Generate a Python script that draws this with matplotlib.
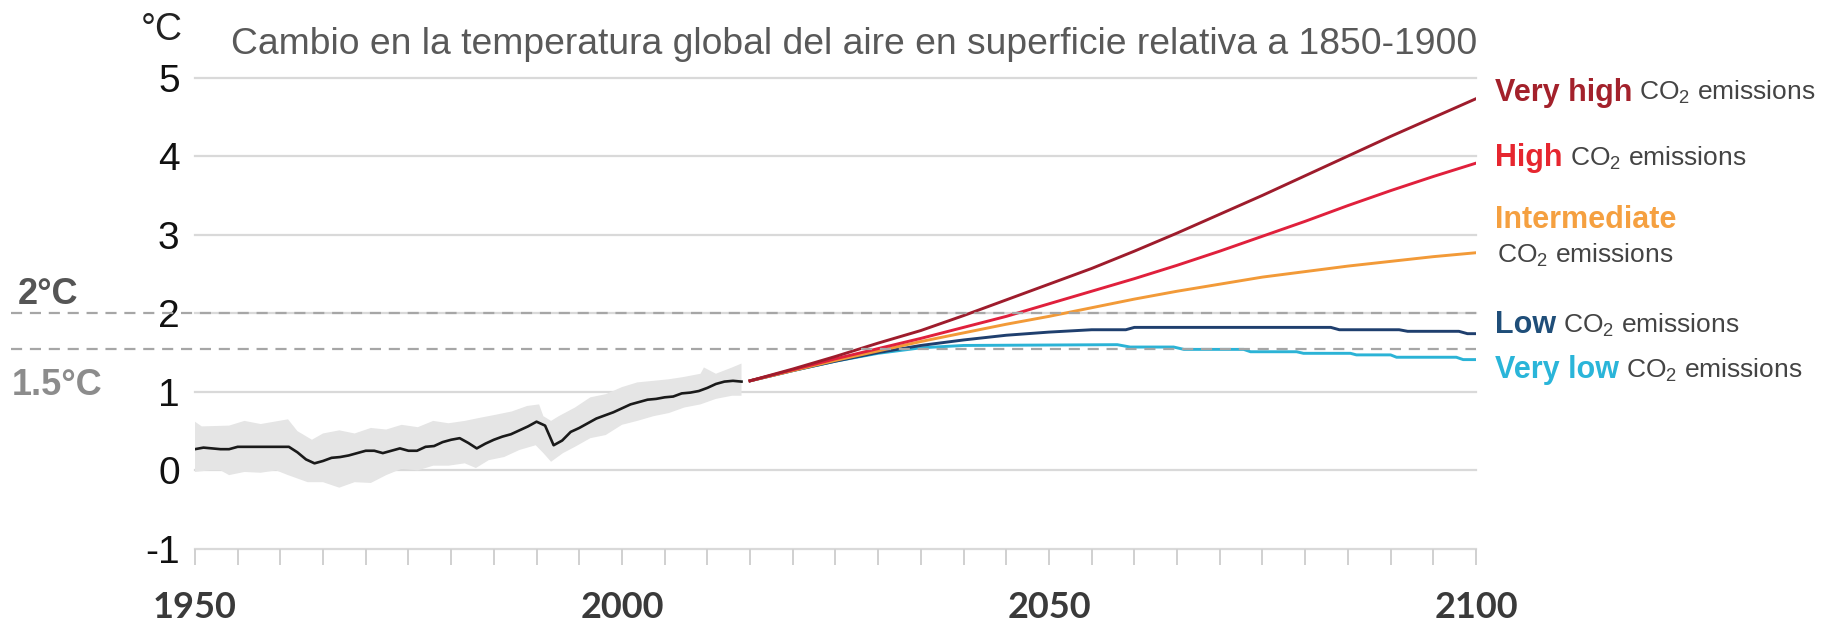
import numpy as np
import matplotlib
matplotlib.use("Agg")
import matplotlib.pyplot as plt
import matplotlib.transforms as mtransforms

plt.rcParams['mathtext.fontset'] = 'custom'
plt.rcParams['mathtext.rm'] = 'Liberation Sans'
plt.rcParams['mathtext.it'] = 'Liberation Sans:italic'
plt.rcParams['mathtext.bf'] = 'Liberation Sans:bold'

# ---------------- data ----------------
hist_years = list(range(1950, 2015))
hist_values = [0.27, 0.29, 0.28, 0.27, 0.27, 0.30, 0.30, 0.30, 0.30, 0.30,
               0.30, 0.30, 0.23, 0.14, 0.09, 0.12, 0.16, 0.17, 0.19, 0.22,
               0.25, 0.25, 0.22, 0.25, 0.28, 0.25, 0.25, 0.30, 0.31, 0.36,
               0.39, 0.41, 0.35, 0.28, 0.34, 0.39, 0.43, 0.46, 0.51, 0.56,
               0.62, 0.57, 0.32, 0.38, 0.49, 0.54, 0.60, 0.66, 0.70, 0.74,
               0.79, 0.84, 0.87, 0.90, 0.91, 0.93, 0.94, 0.98, 0.99, 1.01,
               1.05, 1.10, 1.13, 1.14, 1.13]

band_upper_years = [1950, 1950.8, 1954, 1955.8, 1957.7, 1960.9, 1962, 1963.7, 1965, 1966.9,
                    1968.7, 1970.6, 1972.4, 1974.2, 1976.1, 1977.9, 1979.7, 1981.6, 1983.4,
                    1985.3, 1987.1, 1988.9, 1990.3, 1990.8, 1991.7, 1992.6, 1994.5, 1996.3,
                    1998.1, 2000, 2001.8, 2003.7, 2005.5, 2007.3, 2009.2, 2009.6, 2011,
                    2012.9, 2014]
band_upper = [0.62, 0.56, 0.57, 0.63, 0.59, 0.65, 0.50, 0.39, 0.47, 0.51,
              0.47, 0.54, 0.52, 0.58, 0.55, 0.63, 0.60, 0.63, 0.67,
              0.71, 0.75, 0.82, 0.84, 0.69, 0.63, 0.69, 0.80, 0.93,
              0.97, 1.06, 1.12, 1.14, 1.16, 1.19, 1.23, 1.31, 1.23,
              1.31, 1.36]
band_lower_years = [1950, 1951.7, 1953, 1954, 1955.8, 1957.7, 1959.5, 1960.9, 1963.2, 1965,
                    1966.9, 1968.7, 1970.6, 1972.4, 1974.2, 1976.1, 1977.9, 1979.7, 1981.6,
                    1982.9, 1984.4, 1986.2, 1988, 1989.9, 1990.8, 1991.7, 1993.1, 1994.5,
                    1996.3, 1998.1, 2000, 2001.8, 2003.7, 2005.5, 2007.3, 2009.2, 2011,
                    2012.9, 2014]
band_lower = [-0.02, 0.0, 0.0, -0.06, -0.02, -0.03, 0.0, -0.06, -0.15, -0.15,
              -0.22, -0.15, -0.16, -0.06, 0.02, 0.0, 0.06, 0.06, 0.09,
              0.03, 0.13, 0.17, 0.26, 0.32, 0.22, 0.11, 0.22, 0.30,
              0.41, 0.45, 0.58, 0.63, 0.69, 0.73, 0.80, 0.84, 0.91,
              0.95, 0.95]

scen_years = [2015, 2020, 2025, 2030, 2035, 2040, 2045, 2050, 2055, 2060,
              2065, 2070, 2075, 2080, 2085, 2090, 2095, 2100]
very_high = [1.14, 1.29, 1.45, 1.62, 1.78, 1.97, 2.17, 2.37, 2.57, 2.79,
             3.02, 3.26, 3.50, 3.75, 4.00, 4.25, 4.49, 4.73]
high = [1.14, 1.28, 1.42, 1.55, 1.68, 1.82, 1.96, 2.12, 2.28, 2.44,
        2.61, 2.79, 2.98, 3.17, 3.37, 3.56, 3.74, 3.91]
intermediate = [1.14, 1.27, 1.40, 1.52, 1.64, 1.75, 1.86, 1.96, 2.07, 2.18,
                2.28, 2.37, 2.46, 2.53, 2.60, 2.66, 2.72, 2.77]
low_years = [2015, 2020, 2025, 2030, 2035, 2040, 2045, 2050, 2055, 2059, 2060,
             2083, 2084, 2091, 2092, 2098, 2099, 2100]
low = [1.14, 1.27, 1.39, 1.50, 1.59, 1.66, 1.72, 1.76, 1.79, 1.79, 1.82,
       1.82, 1.79, 1.79, 1.77, 1.77, 1.74, 1.74]
very_low_years = [2015, 2020, 2025, 2030, 2035, 2040, 2058, 2059.5, 2064.6, 2065.8,
                  2072.8, 2073.6, 2079, 2079.8, 2085.3, 2086, 2090, 2090.7, 2097.7,
                  2098.5, 2100]
very_low = [1.14, 1.27, 1.39, 1.49, 1.56, 1.59, 1.60, 1.57, 1.57, 1.54,
            1.54, 1.51, 1.51, 1.49, 1.49, 1.47, 1.47, 1.44, 1.44,
            1.41, 1.41]

ref_levels = [2.0, 1.55]
ref_labels = ["2°C", "1.5°C"]
y_ticks = [-1, 0, 1, 2, 3, 4, 5]
x_major = [1950, 2000, 2050, 2100]
x_minor = list(range(1950, 2101, 5))

scenario_names = ["Very high", "High", "Intermediate", "Low", "Very low"]
title = "Cambio en la temperatura global del aire en superficie relativa a 1850-1900"

# ---------------- style ----------------
c_vh, c_h, c_int, c_low, c_vlow = "#9e1c2c", "#e0203c", "#f29a38", "#1f3f6e", "#2bb3d6"
lab_vh, lab_h, lab_int, lab_low, lab_vlow = "#a3212b", "#e6262f", "#f5a040", "#1f4e79", "#2ab5d9"

fig = plt.figure(figsize=(18.39, 6.22), dpi=100)
ax = fig.add_axes([0.106, 0.1174, 0.6966, 0.758])
ax.set_xlim(1950, 2100)
ax.set_ylim(-1, 5)
for s in ax.spines.values():
    s.set_visible(False)

for yv in y_ticks:
    ax.axhline(yv, color="#d9d9d9", lw=1.6, zorder=0, clip_on=False)

# uncertainty band
poly_x = list(band_upper_years) + list(band_lower_years[::-1])
poly_y = list(band_upper) + list(band_lower[::-1])
ax.fill(poly_x, poly_y, color="#e5e5e5", lw=0, zorder=1)

ax.plot(hist_years, hist_values, color="#1a1a1a", lw=1.9, zorder=3)

ax.plot(very_low_years, very_low, color=c_vlow, lw=2.1, zorder=4)
ax.plot(low_years, low, color=c_low, lw=2.1, zorder=4)
ax.plot(scen_years, intermediate, color=c_int, lw=2.1, zorder=5)
ax.plot(scen_years, high, color=c_h, lw=2.1, zorder=6)
ax.plot(scen_years, very_high, color=c_vh, lw=2.1, zorder=7)

# reference dashed lines across the figure
trans = mtransforms.blended_transform_factory(fig.transFigure, ax.transData)
ax_right = 0.106 + 0.6966
for lvl in ref_levels:
    ax.plot([0.006, ax_right], [lvl, lvl], transform=trans, color="#a6a6a6",
            lw=1.6, ls=(0, (5, 3.5)), clip_on=False, zorder=8)
fig.text(0.0095, 0.527, ref_labels[0], fontsize=26, fontweight="bold",
         color="#555555", family="Liberation Sans", va="center", ha="left")
fig.text(0.0065, 0.380, ref_labels[1], fontsize=26, fontweight="bold",
         color="#8c8c8c", family="Liberation Sans", va="center", ha="left")

# ticks
ax.set_yticks(y_ticks)
ax.set_yticklabels([str(v) for v in y_ticks], fontsize=28, family="Liberation Sans",
                   color="#111111")
ax.tick_params(axis="y", length=0, pad=11)
ax.set_xticks(x_major)
ax.set_xticklabels([str(v) for v in x_major], fontsize=26, family="Lato",
                   fontweight="bold", color="#3a3a3a")
ax.set_xticks(x_minor, minor=True)
ax.tick_params(axis="x", which="both", length=11.5, width=1.4, color="#d0d0d0",
               direction="out")
ax.tick_params(axis="x", which="major", pad=19)

# title and unit
fig.text(0.1256, 0.929, title, fontsize=26.8, color="#595959",
         family="Liberation Sans", va="center", ha="left")
fig.text(0.0765, 0.952, "°C", fontsize=27, color="#222222",
         family="Liberation Sans", va="center", ha="left")

# scenario labels
fig.canvas.draw()
renderer = fig.canvas.get_renderer()
lab_x = 0.813
co2 = r"CO$_2$ emissions"

def label(y, name, color, second=True):
    t = fig.text(lab_x, y, name, fontsize=22, fontweight="bold", color=color,
                 family="Liberation Sans", va="center", ha="left")
    if second:
        bb = t.get_window_extent(renderer=renderer)
        x2 = (bb.x1 + 7) / fig.bbox.width
        fig.text(x2, y, co2, fontsize=19, color="#444444",
                 family="Liberation Sans", va="center", ha="left")

label(0.851, scenario_names[0], lab_vh)
label(0.7455, scenario_names[1], lab_h)
label(0.6463, scenario_names[2], lab_int, second=False)
fig.text(lab_x + 0.001, 0.590, co2, fontsize=19, color="#444444",
         family="Liberation Sans", va="center", ha="left")
label(0.4775, scenario_names[3], lab_low)
label(0.405, scenario_names[4], lab_vlow)

fig.savefig("out.png", dpi=100)
